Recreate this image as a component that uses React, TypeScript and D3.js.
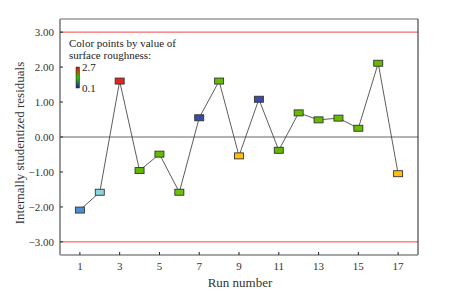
import React from "react";
import * as d3 from "d3";

const runs = [1, 2, 3, 4, 5, 6, 7, 8, 9, 10, 11, 12, 13, 14, 15, 16, 17];
const residuals = [-2.09, -1.58, 1.6, -0.96, -0.49, -1.58, 0.55, 1.6, -0.54, 1.08, -0.38, 0.69, 0.49, 0.54, 0.25, 2.11, -1.05];
const pointColors = [
  "#4f8fcf", "#8ad6e0", "#e3261d", "#62b800", "#66bb00", "#6cc010", "#3b4aa6", "#66bb00", "#ffc107",
  "#3b4aa6", "#62b800", "#66bb00", "#66bb00", "#66bb00", "#66bb00", "#66bb00", "#ffc107",
];
const xTicks = [1, 3, 5, 7, 9, 11, 13, 15, 17];
const yTicks = [-3, -2, -1, 0, 1, 2, 3];
const limits = [-3, 3];
const legendLines = ["Color points by value of", "surface roughness:"];
const legendRange = ["2.7", "0.1"];

const W = 465, H = 301;
const M = { left: 60, right: 418, top: 19, bottom: 255 };
const font = "Liberation Serif, Times New Roman, Times, serif";

export default function App() {
  const x = d3.scaleLinear().domain([0, 18]).range([M.left, M.right]);
  const y = d3.scaleLinear().domain([-3.375, 3.375]).range([M.bottom, M.top]);
  const line = d3.line<number>().x((_, i) => x(runs[i])).y((d) => y(d));
  const mw = 9, mh = 6;
  const ts = { fontFamily: font };
  return (
    <svg width={W} height={H} style={{ position: "absolute", left: 0, top: 0, fontFamily: font }}>
      <defs>
        <linearGradient id="cb" x1="0" y1="1" x2="0" y2="0">
          <stop offset="0" stopColor="#2020a0" />
          <stop offset="0.5" stopColor="#30c000" />
          <stop offset="1" stopColor="#e01010" />
        </linearGradient>
      </defs>
      <rect x={0} y={0} width={W} height={H} fill="#fff" />
      {limits.map((v) => (
        <line key={v} x1={M.left} x2={M.right} y1={y(v)} y2={y(v)} stroke="#f04848" strokeWidth={1} />
      ))}
      <line x1={M.left} x2={M.right} y1={y(0)} y2={y(0)} stroke="#666" strokeWidth={1} />
      <line x1={M.left} x2={M.right} y1={M.top} y2={M.top} stroke="#999" strokeWidth={1.5} />
      <line x1={M.right} x2={M.right} y1={M.top} y2={M.bottom} stroke="#222" strokeWidth={1} />
      <line x1={M.left} x2={M.right} y1={M.bottom} y2={M.bottom} stroke="#888" strokeWidth={1.5} />
      <line x1={M.left} x2={M.left} y1={M.top} y2={M.bottom} stroke="#999" strokeWidth={2} />
      {yTicks.map((t) => (
        <g key={t}>
          <line x1={M.left} x2={M.left + 3} y1={y(t)} y2={y(t)} stroke="#222" />
          <text style={ts} x={M.left - 6} y={y(t)} dy="0.35em" textAnchor="end" fontSize={11} fill="#333">
            {t < 0 ? "\u2212" + Math.abs(t).toFixed(2) : t.toFixed(2)}
          </text>
        </g>
      ))}
      {xTicks.map((t) => (
        <g key={t}>
          <line x1={x(t)} x2={x(t)} y1={M.bottom} y2={M.bottom - 3} stroke="#222" />
          <text style={ts} x={x(t)} y={M.bottom + 15} textAnchor="middle" fontSize={11} fill="#333">{t}</text>
        </g>
      ))}
      <path d={line(residuals) || ""} fill="none" stroke="#333" strokeWidth={0.8} />
      {residuals.map((v, i) => (
        <rect key={i} x={x(runs[i]) - mw / 2} y={y(v) - mh / 2} width={mw} height={mh}
          fill={pointColors[i]} stroke="#333" strokeWidth={0.9} />
      ))}
      {legendLines.map((s, i) => (
        <text style={ts} key={s} x={69} y={47 + i * 12} fontSize={11} fill="#222">{s}</text>
      ))}
      <rect x={76} y={67} width={3.5} height={21} fill="url(#cb)" stroke="#222" strokeWidth={0.5} />
      <text style={ts} x={82} y={71} fontSize={11} fill="#222">{legendRange[0]}</text>
      <text style={ts} x={82} y={92} fontSize={11} fill="#222">{legendRange[1]}</text>
      <text style={ts} x={240} y={287} textAnchor="middle" fontSize={13} fill="#333">Run number</text>
      <text style={ts} transform={`translate(24,${(M.top + M.bottom) / 2 + 6}) rotate(-90)`} textAnchor="middle" fontSize={13} fill="#333">
        Internally studentized residuals
      </text>
    </svg>
  );
}
